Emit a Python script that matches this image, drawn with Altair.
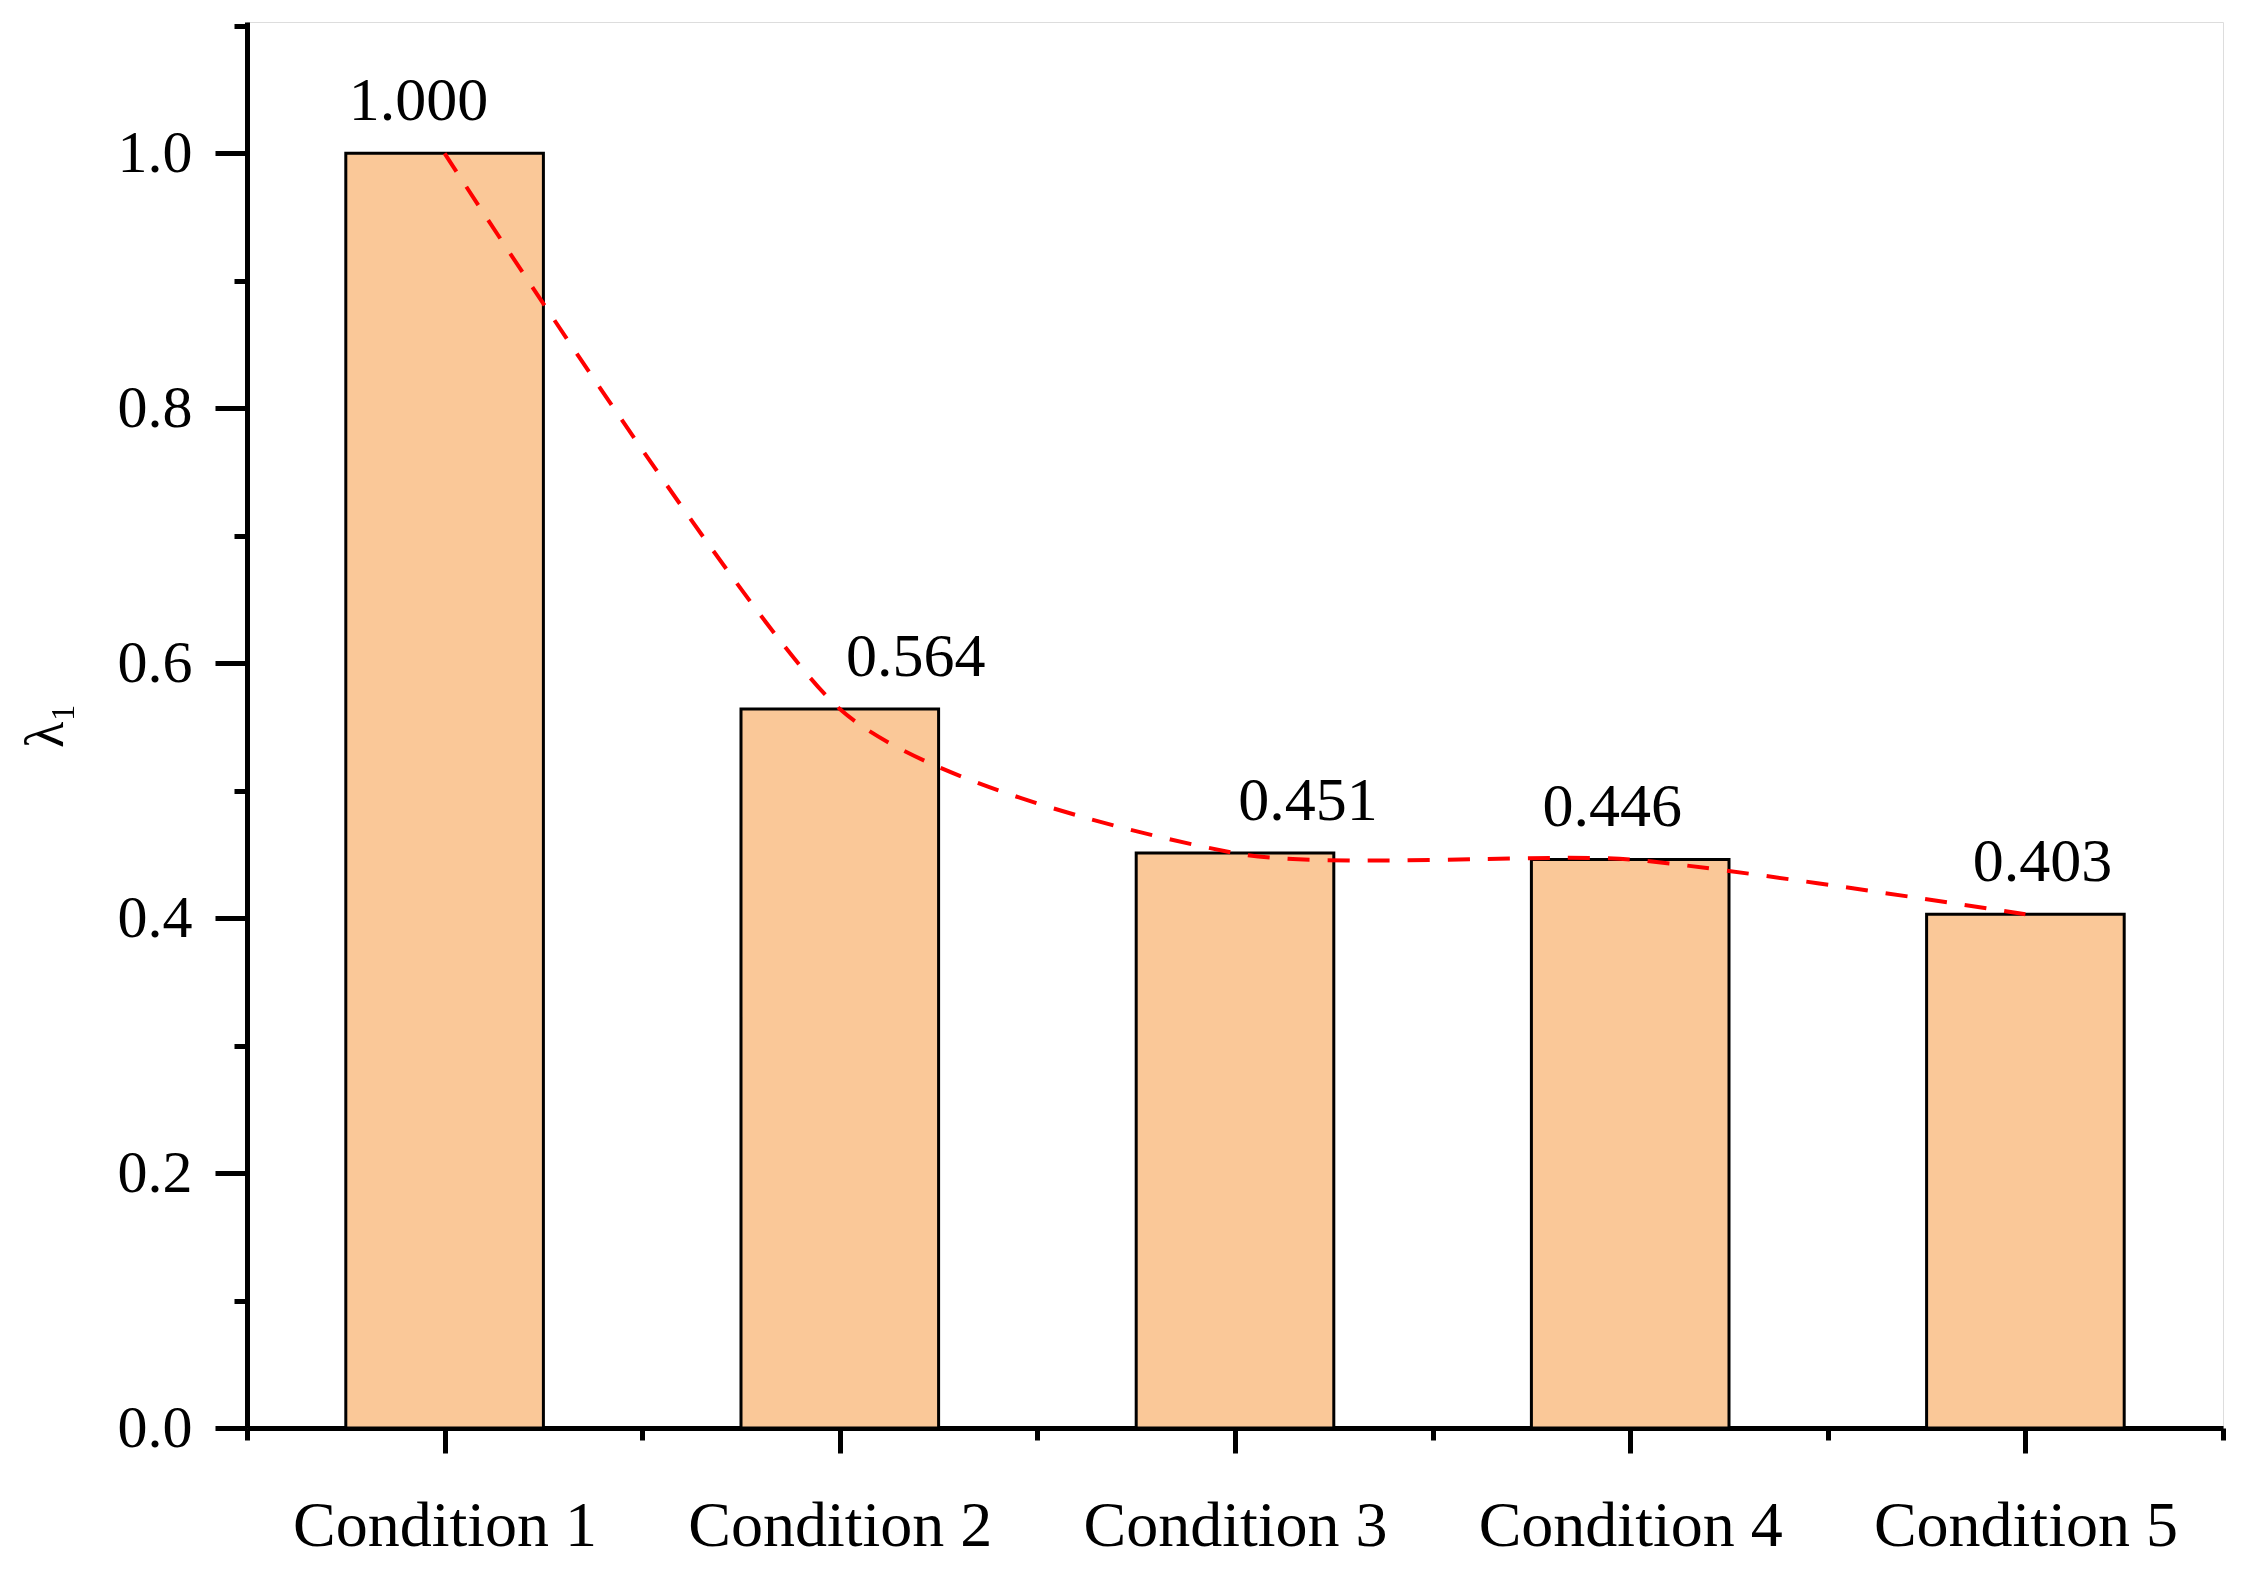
import json
import altair as alt
import pandas as pd

categories = ["Condition 1", "Condition 2", "Condition 3", "Condition 4", "Condition 5"]
values = [1.000, 0.564, 0.451, 0.446, 0.403]
label_text = ["1.000", "0.564", "0.451", "0.446", "0.403"]
label_dx = [-26, 76, 73, -18, 17]

df = pd.DataFrame({
    "idx": list(range(1, len(categories) + 1)),
    "cat": categories,
    "value": values,
    "label": label_text,
})

FONT = "Liberation Serif"
cats_js = json.dumps(categories)

x_scale = alt.Scale(domain=[0.5, 5.5], nice=False, zero=False)
y_scale = alt.Scale(domain=[0, 1.103], nice=False)

x_axis = alt.Axis(
    title=None,
    values=[0.5, 1, 1.5, 2, 2.5, 3, 3.5, 4, 4.5, 5, 5.5],
    labelExpr=f"(datum.value % 1 == 0) ? {cats_js}[datum.value - 1] : ''",
    tickSize={"condition": {"test": "datum.value % 1 != 0", "value": 12}, "value": 25},
    tickWidth=5, tickColor="black", domainWidth=5, domainColor="black",
    labelFont=FONT, labelFontSize=64, labelColor="black", labelPadding=41,
    labelBaseline="top", grid=False, labelFlush=False, labelLimit=0,
    labelOverlap=False,
)
y_axis = alt.Axis(
    title="λ₁",
    values=[0, 0.1, 0.2, 0.3, 0.4, 0.5, 0.6, 0.7, 0.8, 0.9, 1.0, 1.1],
    labelExpr="(round(datum.value * 10) % 2 == 0) ? format(datum.value, '.1f') : ''",
    tickSize={"condition": {"test": "round(datum.value * 10) % 2 == 1", "value": 13}, "value": 32},
    tickWidth=5, tickColor="black", domainWidth=5, domainColor="black",
    labelFont=FONT, labelFontSize=60, labelColor="black", labelPadding=23,
    titleFont=FONT, titleFontSize=54, titleFontWeight="normal", titleColor="black",
    titlePadding=44, grid=False, labelFlush=False, labelOverlap=False,
)

base = alt.Chart(df)

bars = base.transform_calculate(
    x0="datum.idx - 0.25", x1="datum.idx + 0.25"
).mark_bar(fill="#FAC898", stroke="black", strokeWidth=3).encode(
    x=alt.X("x0:Q", scale=x_scale, axis=x_axis),
    x2="x1:Q",
    y=alt.Y("value:Q", scale=y_scale, axis=y_axis),
    y2=alt.datum(0),
)

line = base.mark_line(
    color="#FF0000", strokeWidth=4, strokeDash=[22, 18],
    interpolate="cardinal", tension=0.35,
).encode(
    x=alt.X("idx:Q", scale=x_scale),
    y=alt.Y("value:Q", scale=y_scale),
)

texts = []
for lab, dx in zip(label_text, label_dx):
    texts.append(
        base.transform_filter(alt.datum.label == lab).mark_text(
            font=FONT, fontSize=62, color="black", baseline="alphabetic",
            align="center", dx=dx, dy=-33,
        ).encode(
            x=alt.X("idx:Q", scale=x_scale),
            y=alt.Y("value:Q", scale=y_scale),
            text="label:N",
        )
    )

chart = alt.layer(bars, line, *texts).properties(
    width=1976,
    height=1406,
    autosize=alt.AutoSizeParams(type="none"),
    padding={"left": 239, "top": 14, "right": 14, "bottom": 140},
).configure_view(stroke=None).configure(background="white")

chart.save("out.html", embed_options={"renderer": "svg", "actions": False})
